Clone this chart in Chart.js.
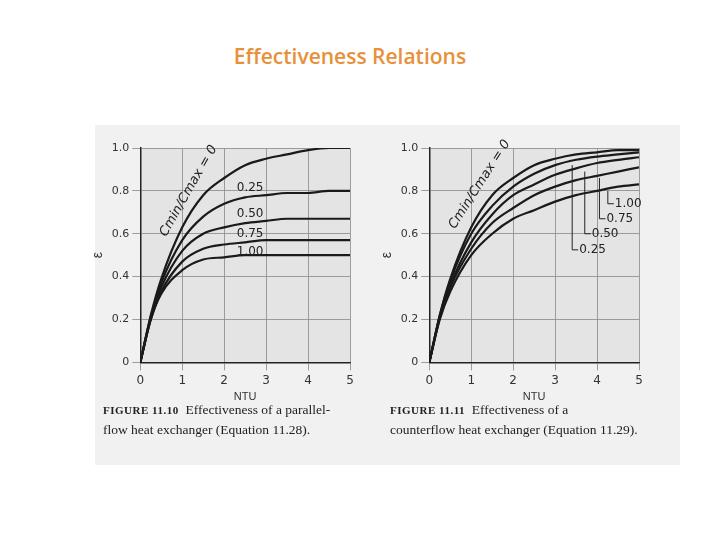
<!DOCTYPE html>
<html>
<head>
<meta charset="utf-8">
<script src="https://cdn.jsdelivr.net/npm/chart.js@4.4.0/dist/chart.umd.min.js"></script>
<style>
  body { margin: 0; width: 720px; height: 540px; background: #fff; position: relative; overflow: hidden; }
  #title { position: absolute; top: 42px; width: 700px; text-align: center; font: 600 21px "Open Sans", sans-serif; color: #e8903a; }
  #scan { position: absolute; left: 95px; top: 125px; width: 585px; height: 340px; background: #f1f1f1; }
  canvas { position: absolute; }
  .cap { position: absolute; top: 400px; font: 13.5px "Liberation Serif", serif; color: #222; line-height: 19px; }
  .cap b { font-size: 11px; letter-spacing: 0.5px; }
</style>
</head>
<body>
<div id="title">Effectiveness Relations</div>
<div id="scan"></div>
<canvas id="left" width="290" height="268" style="left:88px;top:136px"></canvas>
<canvas id="right" width="290" height="268" style="left:377px;top:136px"></canvas>
<div class="cap" style="left:103px"><b>FIGURE 11.10</b>&nbsp; Effectiveness of a parallel-<br>flow heat exchanger (Equation 11.28).</div>
<div class="cap" style="left:390px"><b>FIGURE 11.11</b>&nbsp; Effectiveness of a<br>counterflow heat exchanger (Equation 11.29).</div>
<script>
const ntu = [0, 0.25, 0.5, 1, 1.5, 2, 2.5, 3, 3.5, 4, 4.5, 5];
const crLabels = ["0", "0.25", "0.50", "0.75", "1.00"];

// parallel flow
const par0 = [0, 0.22, 0.39, 0.63, 0.78, 0.86, 0.92, 0.95, 0.97, 0.99, 1.0, 1.0];
const par25 = [0, 0.21, 0.37, 0.57, 0.68, 0.74, 0.77, 0.78, 0.79, 0.79, 0.80, 0.80];
const par50 = [0, 0.21, 0.35, 0.52, 0.60, 0.63, 0.65, 0.66, 0.67, 0.67, 0.67, 0.67];
const par75 = [0, 0.20, 0.33, 0.47, 0.53, 0.55, 0.56, 0.57, 0.57, 0.57, 0.57, 0.57];
const par100 = [0, 0.20, 0.32, 0.43, 0.48, 0.49, 0.50, 0.50, 0.50, 0.50, 0.50, 0.50];

// counterflow
const cnt0 = [0, 0.22, 0.39, 0.63, 0.78, 0.86, 0.92, 0.95, 0.97, 0.98, 0.99, 0.99];
const cnt25 = [0, 0.22, 0.38, 0.60, 0.73, 0.82, 0.88, 0.92, 0.945, 0.96, 0.97, 0.98];
const cnt50 = [0, 0.21, 0.36, 0.56, 0.69, 0.78, 0.83, 0.875, 0.905, 0.93, 0.945, 0.957];
const cnt75 = [0, 0.21, 0.35, 0.53, 0.65, 0.72, 0.78, 0.82, 0.85, 0.87, 0.89, 0.91];
const cnt100 = [0, 0.20, 0.33, 0.50, 0.60, 0.67, 0.71, 0.75, 0.78, 0.80, 0.82, 0.83];

const yTicks = [0, 0.2, 0.4, 0.6, 0.8, 1.0];

// label positions: [ntu, eps, text]
const parLabels = [[2.3, 0.815, "0.25"], [2.3, 0.695, "0.50"], [2.3, 0.6, "0.75"], [2.3, 0.515, "1.00"]];
const cntLabels = [[4.4, 0.74, "1.00"], [4.2, 0.67, "0.75"], [3.85, 0.60, "0.50"], [3.55, 0.525, "0.25"]];
const cntTops = [0.80, 0.86, 0.89, 0.92];

function lineSet(arrs) {
  return arrs.map((d, i) => ({
    label: crLabels[i], data: d.map((y, j) => ({ x: ntu[j], y })),
    borderColor: "#1a1a1a", borderWidth: 2.2, pointRadius: 0, cubicInterpolationMode: "monotone"
  }));
}

const labelPlugin = {
  id: "curveLabels",
  beforeDraw(chart) {
    const a = chart.chartArea, c = chart.ctx;
    c.save(); c.fillStyle = "#e4e4e4"; c.fillRect(a.left, a.top, a.right - a.left, a.bottom - a.top); c.restore();
  },
  afterDatasetsDraw(chart, args, opts) {
    const c = chart.ctx, xs = chart.scales.x, ys = chart.scales.y;
    c.save();
    c.font = "12px 'DejaVu Sans', sans-serif";
    c.fillStyle = "#222"; c.strokeStyle = "#222"; c.lineWidth = 1;
    opts.items.forEach(([x, y, t], i) => {
      const px = xs.getPixelForValue(x), py = ys.getPixelForValue(y);
      c.textAlign = "left"; c.textBaseline = "middle";
      if (opts.leader) {
        const top = ys.getPixelForValue(opts.tops[i]);
        c.beginPath(); c.moveTo(px - 6, top); c.lineTo(px - 6, py); c.lineTo(px, py); c.stroke();
        c.fillText(t, px + 1, py);
      } else {
        c.fillText(t, px, py);
      }
    });
    // rotated Cmin/Cmax = 0 label
    const [rx, ry, rot] = opts.rot;
    c.translate(xs.getPixelForValue(rx), ys.getPixelForValue(ry));
    c.rotate(rot);
    c.textAlign = "center"; c.font = "italic 13px 'DejaVu Sans', sans-serif";
    c.fillText("Cmin/Cmax = 0", 0, 0);
    c.restore();
  }
};

function makeChart(id, arrs, items, leader, rot) {
  new Chart(document.getElementById(id), {
    type: "line",
    data: { datasets: lineSet(arrs) },
    plugins: [labelPlugin],
    options: {
      responsive: false, animation: false,
      layout: { padding: { top: 12, right: 28 } },
      plugins: { legend: { display: false }, tooltip: { enabled: false }, curveLabels: { items, leader, rot, tops: cntTops } },
      scales: {
        x: {
          type: "linear", min: 0, max: 5,
          ticks: { stepSize: 1, color: "#333", font: { size: 12, family: "DejaVu Sans" } },
          grid: { color: "#888", lineWidth: 0.8 }, border: { color: "#222", width: 1.5 },
          title: { display: true, text: "NTU", color: "#333", font: { size: 11 }, padding: 0 }
        },
        y: {
          min: 0, max: 1,
          afterBuildTicks: s => { s.ticks = yTicks.map(v => ({ value: v })); },
          ticks: { color: "#333", font: { size: 11, family: "DejaVu Sans" }, callback: v => v === 0 ? "0" : v.toFixed(1) },
          grid: { color: "#888", lineWidth: 0.8 }, border: { color: "#222", width: 1.5 },
          title: { display: true, text: "ε", color: "#333", font: { size: 14 }, padding: 2 }
        }
      }
    }
  });
}

makeChart("left", [par0, par25, par50, par75, par100], parLabels, false, [1.15, 0.8, -1.05]);
makeChart("right", [cnt0, cnt25, cnt50, cnt75, cnt100], cntLabels, true, [1.2, 0.83, -1.0]);
</script>
</body>
</html>
